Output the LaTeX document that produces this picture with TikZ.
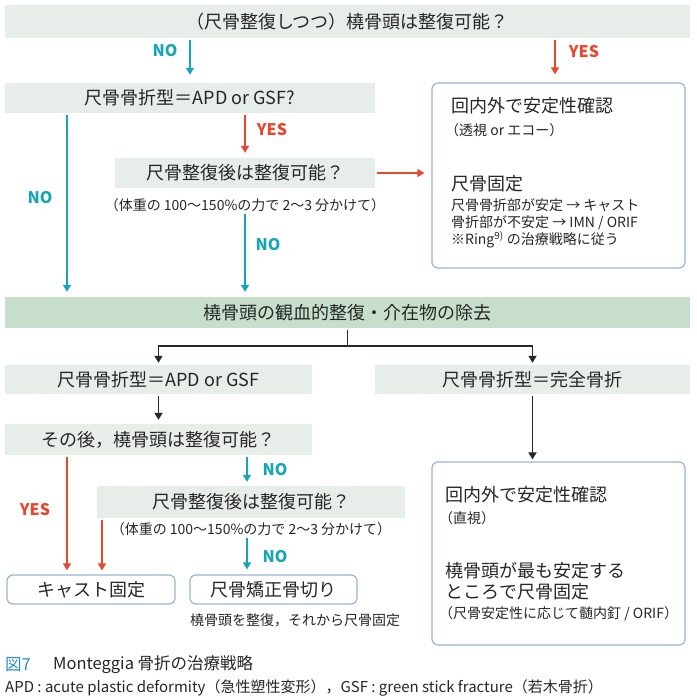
\documentclass[tikz,border=0pt]{standalone}
\usepackage{fontspec}
\setmainfont{Noto Sans CJK JP}
\usetikzlibrary{arrows.meta}
\definecolor{boxgray}{RGB}{231,237,233}
\definecolor{boxgreen}{RGB}{199,222,204}
\definecolor{noteal}{RGB}{22,165,182}
\definecolor{yesred}{RGB}{231,72,45}
\definecolor{edgeblue}{RGB}{152,180,214}
\definecolor{ink}{RGB}{38,38,38}
\definecolor{figblue}{RGB}{45,140,200}
\newcommand{\fsbig}{\fontsize{18}{21}\selectfont}
\newcommand{\fssmall}{\fontsize{14}{16}\selectfont}
\newcommand{\fscap}{\fontsize{16.5}{19}\selectfont}
\newcommand{\fslbl}{\fontsize{16}{18}\selectfont\bfseries}
\begin{document}
\begin{tikzpicture}[x=1pt,y=-1pt,
  every node/.style={text=ink},
  qbox/.style={fill=boxgray,minimum height=30pt,inner sep=0pt,font=\fsbig},
  gbox/.style={qbox,fill=boxgreen},
  rbox/.style={draw=edgeblue,line width=1.2pt,rounded corners=6pt,fill=white,inner sep=0pt},
  note/.style={font=\fssmall,inner sep=0pt},
  txt/.style={font=\fsbig,anchor=west,inner sep=0pt},
  sub/.style={font=\fssmall,anchor=west,inner sep=0pt},
  noarr/.style={draw=noteal,line width=1.6pt,-{Triangle[width=8pt,length=7pt]},shorten >=5pt,shorten <=2pt},
  yesarr/.style={noarr,draw=yesred},
  blkarr/.style={noarr,draw=ink,line width=1.8pt},
  nolbl/.style={text=noteal,font=\fslbl},
  yeslbl/.style={text=yesred,font=\fslbl}]
\useasboundingbox (0,0) rectangle (696,698);
\coordinate (xa) at (67,0); \coordinate (xb) at (247,0);
\coordinate (xc) at (102,0); \coordinate (xd) at (555,0);
\node[qbox,minimum width=685pt,minimum height=33pt] (q1) at (347.5,21.5) {（尺骨整復しつつ）橈骨頭は整復可能？};
\node[qbox,minimum width=370pt] (q2) at (190,98) {尺骨骨折型＝APD or GSF?};
\node[rbox,minimum width=253pt,minimum height=185pt] (r1) at (558.5,175.5) {};
\node[qbox,minimum width=260pt] (q3) at (245,173) {尺骨整復後は整復可能？};
\node[note] (n1) at (245,205) {（体重の 100～150\%の力で 2～3 分かけて）};
\node[gbox,minimum width=685pt,minimum height=31pt] (g) at (347.5,312.5) {橈骨頭の観血的整復・介在物の除去};
\node[qbox,minimum width=307pt,minimum height=29pt] (q4) at (158.5,379.5) {尺骨骨折型＝APD or GSF};
\node[qbox,minimum width=315pt,minimum height=29pt] (q5) at (532.5,379.5) {尺骨骨折型＝完全骨折};
\node[qbox,minimum width=307pt,minimum height=31pt] (q6) at (158.5,439.5) {その後，橈骨頭は整復可能？};
\node[qbox,minimum width=308pt,minimum height=32pt] (q7) at (251,502) {尺骨整復後は整復可能？};
\node[note] (n2) at (251,529) {（体重の 100～150\%の力で 2～3 分かけて）};
\node[rbox,minimum width=168pt,minimum height=29pt,font=\fsbig] (c1) at (91,589.5) {キャスト固定};
\node[rbox,minimum width=167pt,minimum height=29pt,font=\fsbig] (c2) at (273.5,589.5) {尺骨矯正骨切り};
\node[sub] (n3) at (190,620) {橈骨頭を整復，それから尺骨固定};
\node[rbox,minimum width=253pt,minimum height=183pt] (r2) at (558.5,553.5) {};
\node[txt] (r1a) at (451,106) {回内外で安定性確認};
\node[sub] (r1b) at (445,130) {（透視 or エコー）};
\node[txt] (r1c) at (451,184) {尺骨固定};
\node[sub] (r1d) at (451,205) {尺骨骨折部が安定 → キャスト};
\node[sub] (r1e) at (451,223) {骨折部が不安定 → IMN / ORIF};
\node[sub] (r1f) at (451,240) {※Ring\textsuperscript{9)} の治療戦略に従う};
\node[txt] (r2a) at (445,495) {回内外で安定性確認};
\node[sub] (r2b) at (439,518) {（直視）};
\node[txt] (r2c) at (445,571) {橈骨頭が最も安定する};
\node[txt] (r2d) at (445,592) {ところで尺骨固定};
\node[sub] (r2e) at (439,614) {（尺骨安定性に応じて髄内釘 / ORIF）};
\draw[noarr,shorten >=8pt] (q1.south -| q2.north) -- (q2.north);
\draw[yesarr,shorten >=8pt] (q1.south -| xd) -- (r1.north -| xd);
\draw[noarr] (q2.south -| xa) -- (g.north -| xa);
\draw[yesarr] (q2.south -| q3.north) -- (q3.north);
\draw[yesarr,shorten >=7pt] (q3.east) -- (q3.east -| r1.west);
\draw[noarr] (n1.south -| q3.north) -- (g.north -| q3.north);
\draw[blkarr,shorten >=2pt] (g.south) -- ++(0,18) -| (q4.north);
\draw[blkarr,shorten >=2pt] (g.south) -- ++(0,18) -| (q5.north);
\draw[blkarr,shorten >=4pt] (q4.south) -- (q6.north);
\draw[blkarr,shorten >=2pt] (q5.south) -- (q5.south |- r2.north);
\draw[noarr,shorten >=4pt] (q6.south -| xb) -- (q7.north -| xb);
\draw[noarr] (n2.south -| xb) -- (c2.north -| xb);
\draw[yesarr,shorten >=4pt] (q6.south -| xa) -- (c1.north -| xa);
\draw[yesarr,shorten >=4pt] (q7.south -| xc) -- (c1.north -| xc);
\node[nolbl] (l1) at (165,51) {NO};
\node[yeslbl] (l2) at (584,52) {YES};
\node[nolbl] (l3) at (40,198) {NO};
\node[yeslbl] (l4) at (272,130) {YES};
\node[nolbl] (l5) at (268,245) {NO};
\node[nolbl] (l6) at (275,470) {NO};
\node[nolbl] (l7) at (275,557) {NO};
\node[yeslbl] (l8) at (35,510) {YES};
\node[anchor=west,inner sep=0pt,text=figblue,font=\fscap] (f1) at (5,665) {図7};
\node[anchor=west,inner sep=0pt,font=\fscap] (f2) at (53,665) {Monteggia 骨折の治療戦略};
\node[anchor=west,inner sep=0pt,font=\fontsize{15}{17}\selectfont] (f3) at (5,688) {APD : acute plastic deformity（急性塑性変形），GSF : green stick fracture（若木骨折）};
\end{tikzpicture}
\end{document}
